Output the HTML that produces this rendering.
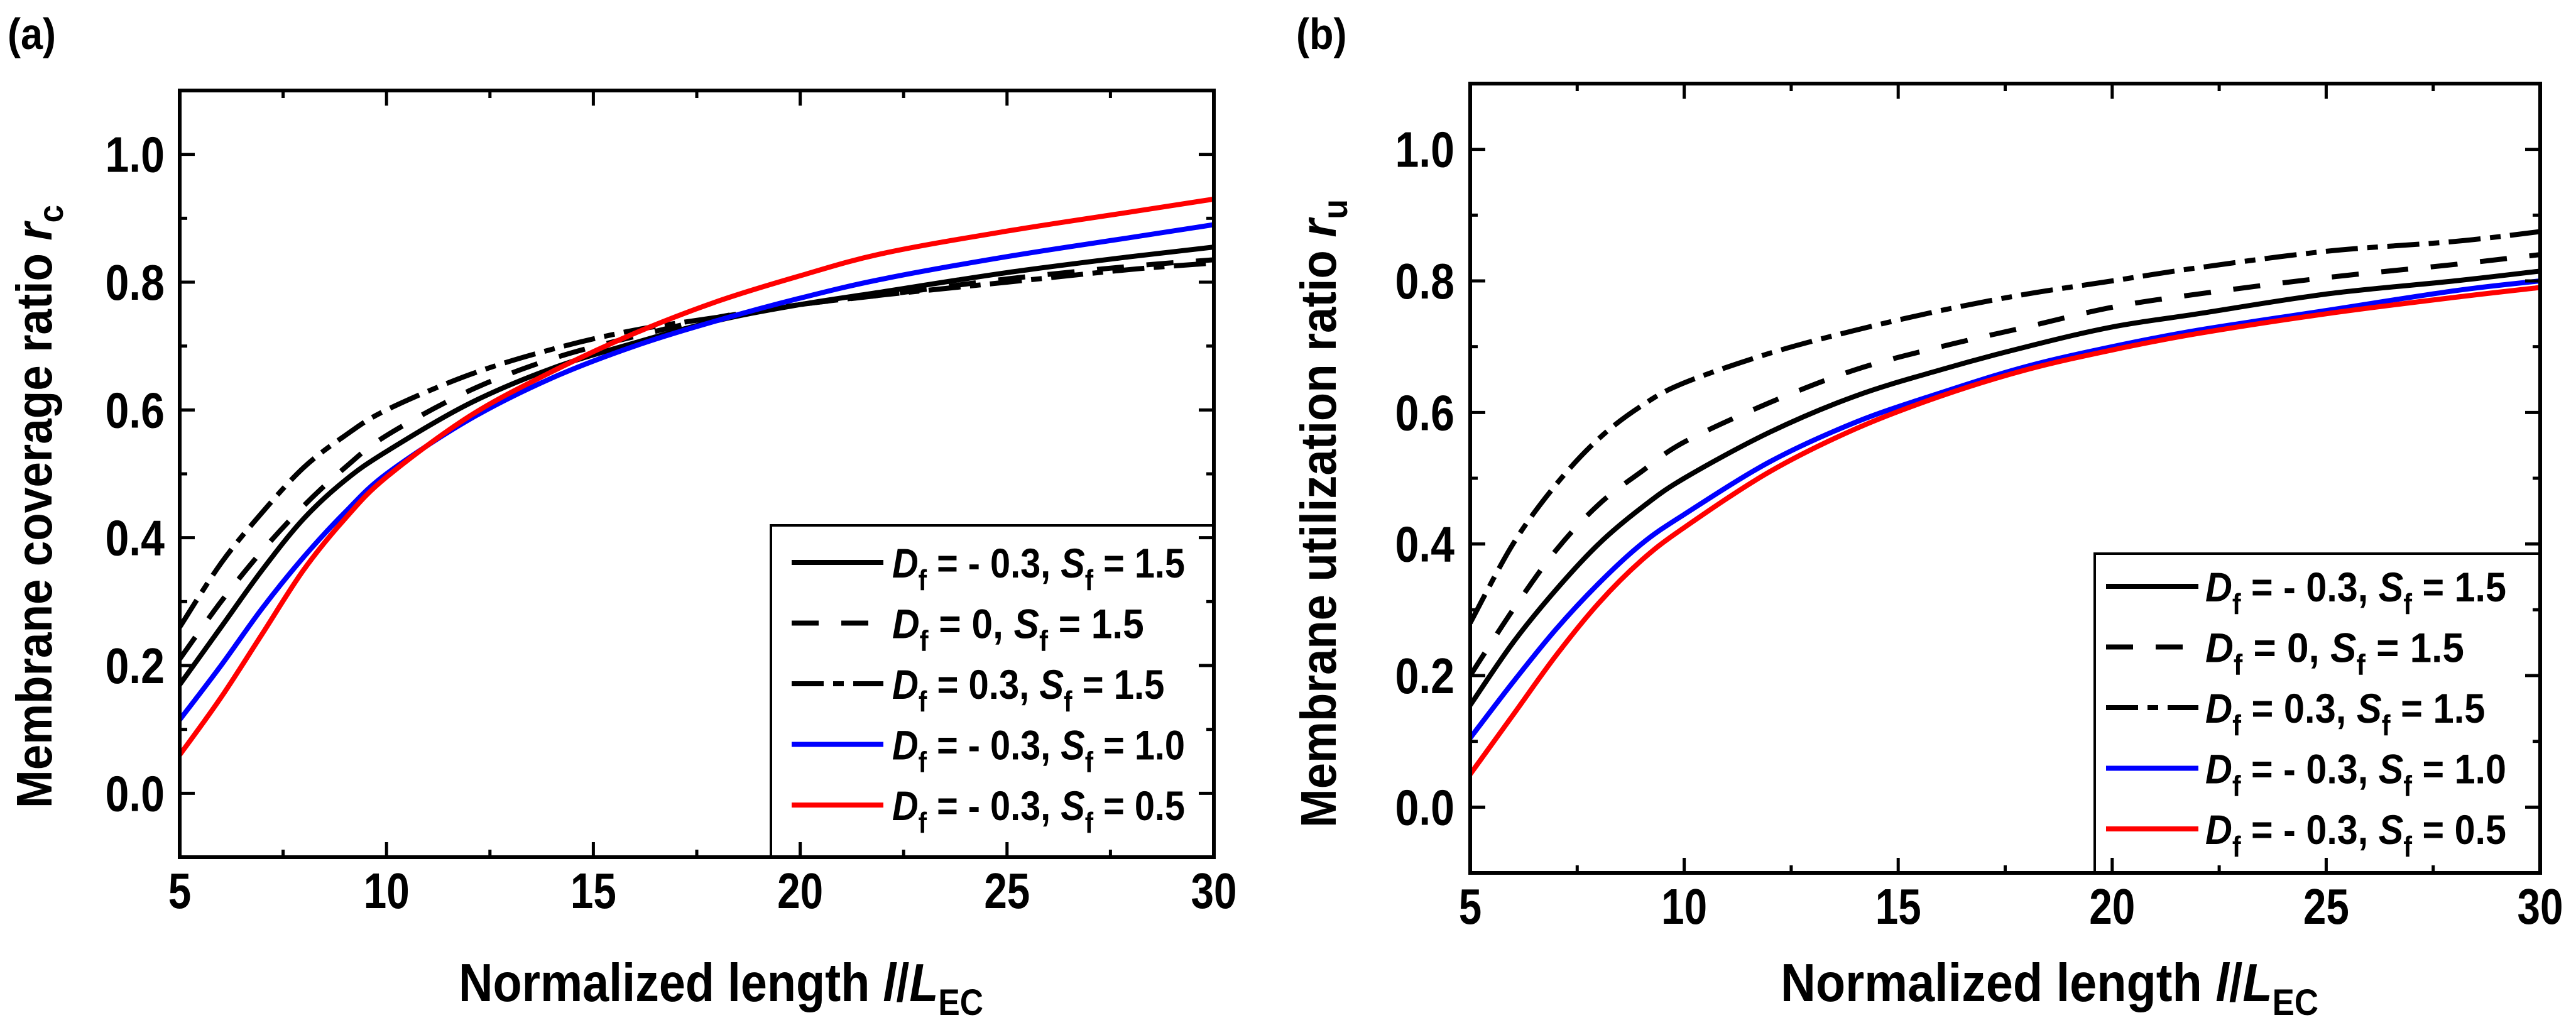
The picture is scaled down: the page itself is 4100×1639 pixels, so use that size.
<!DOCTYPE html>
<html><head><meta charset="utf-8"><style>
html,body{margin:0;padding:0;background:#fff;}
svg{display:block;}
text{font-family:"Liberation Sans",sans-serif;font-weight:bold;fill:#000;}
</style></head>
<body>
<svg id="fig" width="4100" height="1639" viewBox="0 0 4100 1639" xmlns="http://www.w3.org/2000/svg"></svg>
<script>
const xValues = [5,6,7,8,9,10,12,14,16,18,20,22,25,28,30];
const xTicks = [5,10,15,20,25,30];
const yTicks = [0.0,0.2,0.4,0.6,0.8,1.0];
const yTickLabels = ["0.0","0.2","0.4","0.6","0.8","1.0"];
const seriesLabelsD = ["- 0.3","0","0.3","- 0.3","- 0.3"];
const seriesLabelsS = ["1.5","1.5","1.5","1.0","0.5"];
// panel (a) membrane coverage ratio
const aSolid   = [0.17,0.26,0.35,0.43,0.49,0.535,0.61,0.665,0.705,0.74,0.765,0.785,0.815,0.84,0.855];
const aDash    = [0.21,0.30,0.38,0.45,0.51,0.56,0.63,0.68,0.715,0.745,0.765,0.78,0.805,0.825,0.835];
const aDashDot = [0.26,0.36,0.44,0.51,0.56,0.60,0.655,0.695,0.725,0.745,0.765,0.78,0.80,0.82,0.83];
const aBlue    = [0.115,0.20,0.29,0.37,0.44,0.50,0.585,0.65,0.70,0.74,0.775,0.805,0.84,0.87,0.89];
const aRed     = [0.06,0.15,0.25,0.35,0.43,0.495,0.59,0.66,0.72,0.77,0.81,0.845,0.88,0.91,0.93];
// panel (b) membrane utilization ratio
const bSolid   = [0.155,0.25,0.33,0.40,0.455,0.50,0.57,0.625,0.665,0.70,0.73,0.75,0.78,0.80,0.815];
const bDash    = [0.20,0.30,0.39,0.46,0.51,0.555,0.615,0.665,0.70,0.73,0.76,0.78,0.805,0.825,0.84];
const bDashDot = [0.28,0.40,0.49,0.56,0.61,0.645,0.69,0.725,0.755,0.78,0.80,0.82,0.845,0.86,0.875];
const bBlue    = [0.105,0.19,0.27,0.34,0.40,0.445,0.525,0.585,0.63,0.67,0.70,0.725,0.755,0.785,0.80];
const bRed     = [0.05,0.14,0.23,0.31,0.375,0.425,0.51,0.575,0.625,0.665,0.695,0.72,0.75,0.775,0.79];

const NS="http://www.w3.org/2000/svg";
const svg=document.getElementById('fig');
function el(tag,attrs,parent){const e=document.createElementNS(NS,tag);for(const k in attrs)e.setAttribute(k,attrs[k]);(parent||svg).appendChild(e);return e;}

const styles=[
 {color:"#000",dash:""},
 {color:"#000",dash:"43 36"},
 {color:"#000",dash:"51 15 17 15"},
 {color:"#0000ff",dash:""},
 {color:"#ff0000",dash:""}
];
const styleNames=["solid-black","dashed-black","dashdot-black","blue","red"];

function smoothPath(pts){
  let d="M"+pts[0][0].toFixed(1)+","+pts[0][1].toFixed(1);
  for(let i=0;i<pts.length-1;i++){
    const p0=pts[Math.max(0,i-1)],p1=pts[i],p2=pts[i+1],p3=pts[Math.min(pts.length-1,i+2)];
    const c1=[p1[0]+(p2[0]-p0[0])/6,p1[1]+(p2[1]-p0[1])/6];
    const c2=[p2[0]-(p3[0]-p1[0])/6,p2[1]-(p3[1]-p1[1])/6];
    d+=" C"+c1[0].toFixed(1)+","+c1[1].toFixed(1)+" "+c2[0].toFixed(1)+","+c2[1].toFixed(1)+" "+p2[0].toFixed(1)+","+p2[1].toFixed(1);
  }
  return d;
}

function panel(cfg){
  const g=el('g',{});
  
  
  const L=cfg.L,R=cfg.R,T=cfg.T,B=cfg.B;
  const xs=v=>L+(v-5)/25*(R-L);
  const ys=v=>B-(v+0.1)/1.2*(B-T);
  // clip
  const cp=el('clipPath',{id:cfg.id+'clip'},g);
  el('rect',{x:L,y:T,width:R-L,height:B-T},cp);
  // curves
  cfg.series.forEach((s,i)=>{
    const pts=xValues.map((x,j)=>[xs(x),ys(s[j])]);
    const p=el('path',{d:smoothPath(pts),fill:"none",stroke:styles[i].color,"stroke-width":8,"stroke-dasharray":styles[i].dash,"clip-path":"url(#"+cfg.id+"clip)"},g);
    
    
  });
  // legend
  const lg=el('g',{},g);
  
  
  el('rect',{x:cfg.lgL,y:cfg.lgT,width:R-cfg.lgL,height:B-cfg.lgT,fill:"#fff",stroke:"#000","stroke-width":4},lg);
  for(let i=0;i<5;i++){
    const yy=cfg.lgY0+i*cfg.lgDy;
    const ln=el('line',{x1:cfg.sx1,x2:cfg.sx2,y1:yy,y2:yy,stroke:styles[i].color,"stroke-width":8,"stroke-dasharray":styles[i].dash},lg);
    
    
    const t=el('text',{x:cfg.tx,y:yy+24,"font-size":66,textLength:cfg.tw*(i==1?0.86:(i==2?0.93:1)),lengthAdjust:"spacingAndGlyphs"},lg);
    
    
    t.innerHTML='<tspan font-style="italic">D</tspan><tspan font-size="46" dy="20">f</tspan><tspan dy="-20"> = '+seriesLabelsD[i]+', </tspan><tspan font-style="italic">S</tspan><tspan font-size="46" dy="20">f</tspan><tspan dy="-20"> = '+seriesLabelsS[i]+'</tspan>';
  }
  // frame
  el('rect',{x:L,y:T,width:R-L,height:B-T,fill:"none",stroke:"#000","stroke-width":6},g);
  // ticks
  for(let v=5;v<=30.01;v+=2.5){
    const major=Math.abs(v%5)<0.01, len=major?24:12, X=xs(v);
    el('line',{x1:X,x2:X,y1:B,y2:B-len,stroke:"#000","stroke-width":5},g);
    el('line',{x1:X,x2:X,y1:T,y2:T+len,stroke:"#000","stroke-width":5},g);
  }
  for(let k=-1;k<=11;k++){
    const v=k/10, major=k%2===0, len=major?24:12, Y=ys(v);
    el('line',{x1:L,x2:L+len,y1:Y,y2:Y,stroke:"#000","stroke-width":5},g);
    el('line',{x1:R,x2:R-len,y1:Y,y2:Y,stroke:"#000","stroke-width":5},g);
  }
  xTicks.forEach(v=>{
    const t=el('text',{x:xs(v),y:B+81,"font-size":80,"text-anchor":"middle",transform:"translate("+xs(v)+",0) scale(0.82,1) translate("+(-xs(v))+",0)"},g);
    t.textContent=String(v);
    
    
  });
  yTicks.forEach((v,i)=>{
    const x0=cfg.ylabR;
    const t=el('text',{x:x0,y:ys(v)+28,"font-size":80,"text-anchor":"end",transform:"translate("+x0+",0) scale(0.85,1) translate("+(-x0)+",0)"},g);
    t.textContent=yTickLabels[i];
    
    
  });
  // x title
  const xt=el('text',{x:cfg.xtX,y:1593,"font-size":85,textLength:cfg.xtW,lengthAdjust:"spacingAndGlyphs"},g);
  xt.innerHTML='Normalized length <tspan font-style="italic">l</tspan>/<tspan font-style="italic">L</tspan><tspan font-size="58" dy="22">EC</tspan>';
  
  
  // y title
  const yt=el('text',{x:0,y:0,"font-size":80,"text-anchor":"middle",textLength:cfg.ytW,lengthAdjust:"spacingAndGlyphs",transform:"translate("+cfg.ytX+","+cfg.ytY+") rotate(-90)"},g);
  yt.innerHTML=cfg.ytitle+' <tspan font-style="italic">r</tspan><tspan font-size="56" dy="18">'+cfg.ysub+'</tspan>';
  
  
  // panel label
  const pl=el('text',{x:cfg.plX,y:78,"font-size":70,transform:"translate("+cfg.plX+",0) scale(0.9,1) translate("+(-cfg.plX)+",0)"},g);
  pl.textContent=cfg.plabel;
  
  
}

panel({id:'a',name:'panel-a-coverage-chart',L:286,R:1932,T:144,B:1364,
  series:[aSolid,aDash,aDashDot,aBlue,aRed],
  lgL:1227,lgT:836,lgY0:895,lgDy:96.5,sx1:1260,sx2:1406,tx:1420,tw:466,
  ylabR:262,xtX:730,xtW:835,ytX:82,ytY:806,ytW:960,
  ytitle:'Membrane coverage ratio',ysub:'c',plX:12,plabel:'(a)'});
panel({id:'b',name:'panel-b-utilization-chart',L:2340,R:4043,T:133,B:1389,
  series:[bSolid,bDash,bDashDot,bBlue,bRed],
  lgL:3334,lgT:881,lgY0:933,lgDy:96.5,sx1:3352,sx2:3499,tx:3510,tw:479,
  ylabR:2315,xtX:2834,xtW:856,ytX:2126,ytY:817,ytW:1000,
  ytitle:'Membrane utilization ratio',ysub:'u',plX:2063,plabel:'(b)'});
</script>
</body></html>
